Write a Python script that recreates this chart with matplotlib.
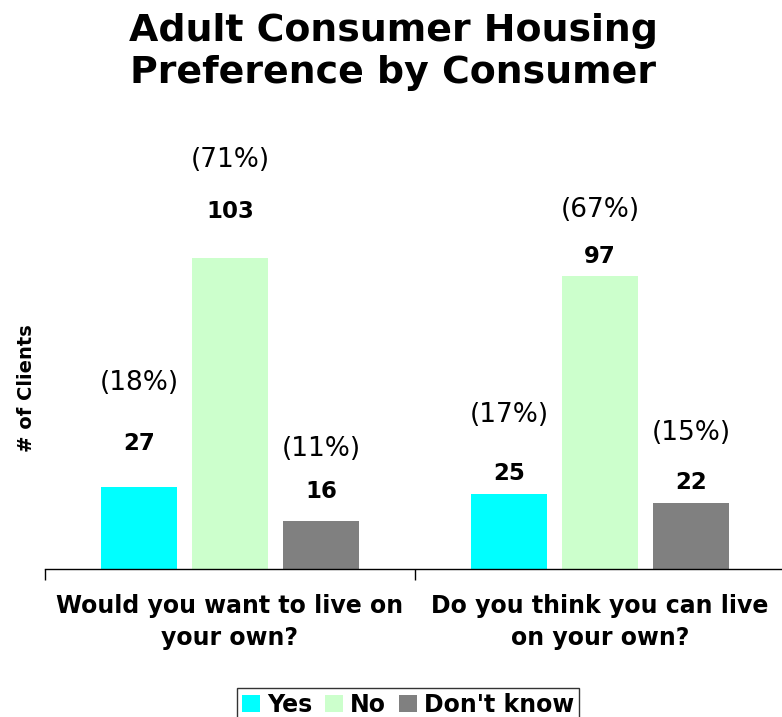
import matplotlib
matplotlib.use("Agg")
import matplotlib.pyplot as plt
import matplotlib.transforms as mtransforms
import numpy as np

categories = ["Would you want to live on\nyour own?", "Do you think you can live\non your own?"]
series_names = ["Yes", "No", "Don't know"]
counts = {
    "Yes": [27, 25],
    "No": [103, 97],
    "Don't know": [16, 22],
}
percents = {
    "Yes": ["(18%)", "(17%)"],
    "No": ["(71%)", "(67%)"],
    "Don't know": ["(11%)", "(15%)"],
}
colors = {"Yes": "#00FFFF", "No": "#CCFFCC", "Don't know": "#808080"}

# label offsets above bar tops, in pixels
value_off = {"Yes": [44, 20], "No": [46, 20], "Don't know": [29, 20]}
pct_off = {"Yes": [104, 78], "No": [98, 66], "Don't know": [72, 70]}

W, H = 782, 717
fig = plt.figure(figsize=(W / 100, H / 100), dpi=100)
ax_left, ax_right = 45, 785
ax_bottom, ax_top = 569, 116
ax = fig.add_axes([ax_left / W, (H - ax_bottom) / H, (ax_right - ax_left) / W, (ax_bottom - ax_top) / H])

x = np.arange(len(categories))
width = 0.205
step = 0.246
px2pt = 72 / 100
for i, s in enumerate(series_names):
    xs = x + (i - 1) * step
    ax.bar(xs, counts[s], width=width, color=colors[s], label=s, zorder=2)
    for j, (xx, v) in enumerate(zip(xs, counts[s])):
        ax.annotate(str(v), (xx, v), xytext=(0, value_off[s][j] * px2pt), textcoords="offset points",
                    ha="center", va="center", fontsize=16.5, fontweight="bold")
        ax.annotate(percents[s][j], (xx, v), xytext=(0, pct_off[s][j] * px2pt), textcoords="offset points",
                    ha="center", va="center", fontsize=19)

ax.set_xlim(-0.5, 1.5)
ax.set_ylim(0, 150)
for sp in ["top", "right", "left"]:
    ax.spines[sp].set_visible(False)
ax.spines["bottom"].set_linewidth(1.0)
ax.set_yticks([])
ax.set_xticks([])
ax.set_xticks([-0.5, 0.5, 1.5], minor=True)
ax.tick_params(axis="x", which="minor", length=8, direction="out", width=1, labelbottom=False)

trans = mtransforms.blended_transform_factory(ax.transData, fig.transFigure)
for xx, lab in zip(x, categories):
    ax.text(xx, 1 - 622 / H, lab, transform=trans, ha="center", va="center",
            fontsize=17, fontweight="bold", linespacing=1.38)

fig.text(27 / W, 1 - 388 / H, "# of Clients", rotation=90, ha="center", va="center",
         fontsize=14, fontweight="bold")
fig.text(393 / W, 1 - 52 / H, "Adult Consumer Housing\nPreference by Consumer", ha="center", va="center",
         fontsize=27.3, fontweight="bold", linespacing=1.18)

leg = fig.legend(loc="center", bbox_to_anchor=(408 / W, 1 - 705 / H), ncol=3, frameon=True,
                 prop={"size": 17, "weight": "bold"}, handlelength=0.75, handleheight=0.75,
                 handletextpad=0.3, columnspacing=0.55, borderpad=0.22, fancybox=False)
leg.get_frame().set_edgecolor("black")
leg.get_frame().set_linewidth(1.0)

fig.savefig("out.png", dpi=100)
